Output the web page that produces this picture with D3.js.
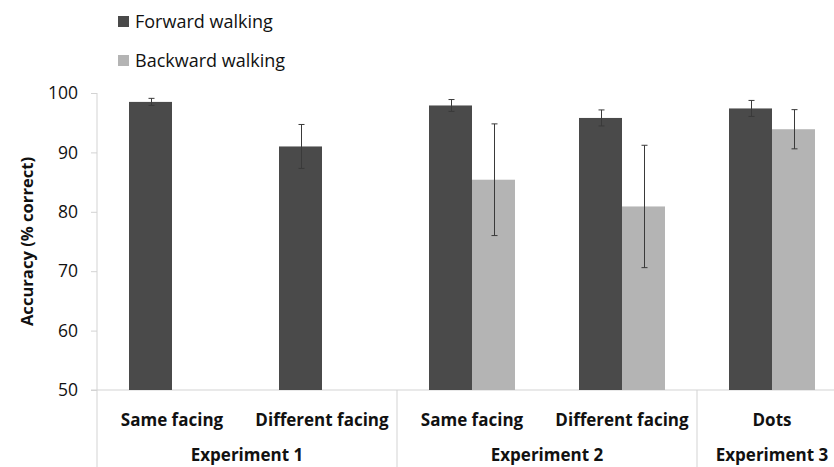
<!DOCTYPE html>
<html>
<head>
<meta charset="utf-8">
<script src="https://cdn.jsdelivr.net/npm/d3@7"></script>
<style>
  html, body { margin: 0; padding: 0; background: #fff; }
  svg { display: block; }
  text { font-family: "Open Sans", "Noto Sans", sans-serif; fill: #111; }
</style>
</head>
<body>
<svg id="chart" width="834" height="467"></svg>
<script>
// Conditions and group labels
const conditions = ["Same facing", "Different facing", "Same facing", "Different facing", "Dots"];
const experiments = ["Experiment 1", "Experiment 2", "Experiment 3"];
const experimentSpans = [[0, 2], [2, 4], [4, 5]]; // condition index ranges per experiment

// Mean accuracy (% correct) and error bar half-widths
const forwardMean = [98.5, 91.0, 97.9, 95.8, 97.4];
const forwardErr  = [0.6, 3.7, 1.0, 1.35, 1.35];
const backwardMean = [null, null, 85.4, 80.9, 93.9];
const backwardErr  = [null, null, 9.4, 10.3, 3.3];

const seriesNames = ["Forward walking", "Backward walking"];
const yTicks = [50, 60, 70, 80, 90, 100];

const colors = { fwd: "#4a4a4a", bwd: "#b4b4b4", axis: "#d3d3d3", err: "#3a3a3a" };

const svg = d3.select("#chart");
const plotLeft = 97, plotRight = 847, plotTop = 93, plotBottom = 390;

const x = d3.scaleBand().domain(d3.range(conditions.length)).range([plotLeft, plotRight]).paddingInner(0).paddingOuter(0);
const y = d3.scaleLinear().domain([50, 100]).range([plotBottom, plotTop]);
const barW = 43;

// Y axis
const yAxis = d3.axisLeft(y).tickValues(yTicks).tickSize(6).tickPadding(13);
const gy = svg.append("g").attr("transform", `translate(${plotLeft},0)`).call(yAxis);
gy.select(".domain").remove();
gy.selectAll(".tick line").attr("stroke", colors.axis);
gy.selectAll(".tick text").attr("font-size", 17.5).attr("fill", "#111")
  .attr("font-family", "'Open Sans', sans-serif");

// Axis lines
svg.append("line").attr("x1", plotLeft).attr("x2", plotLeft).attr("y1", plotTop).attr("y2", 467)
  .attr("stroke", colors.axis);
svg.append("line").attr("x1", plotLeft - 6).attr("x2", plotRight).attr("y1", plotBottom).attr("y2", plotBottom)
  .attr("stroke", colors.axis);

// Separators between experiments
experimentSpans.slice(1).forEach(([s]) => {
  svg.append("line").attr("x1", x(s)).attr("x2", x(s)).attr("y1", plotBottom).attr("y2", 467)
    .attr("stroke", colors.axis);
});

// Bars
const bars = svg.append("g");
function drawSeries(means, offset, fill) {
  means.forEach((v, i) => {
    if (v == null) return;
    const cx = x(i) + x.bandwidth() / 2 + offset;
    bars.append("rect")
      .attr("x", cx - barW / 2).attr("width", barW)
      .attr("y", y(v)).attr("height", y(50) - y(v))
      .attr("fill", fill);
  });
}
function drawErrors(means, errs, offset) {
  means.forEach((v, i) => {
    if (v == null) return;
    const cx = Math.round(x(i) + x.bandwidth() / 2 + offset) + 0.5;
    const e = errs[i];
    const g = bars.append("g").attr("stroke", colors.err).attr("stroke-width", 1);
    g.append("line").attr("x1", cx).attr("x2", cx).attr("y1", y(v + e)).attr("y2", y(v - e));
    g.append("line").attr("x1", cx - 3).attr("x2", cx + 3).attr("y1", y(v + e)).attr("y2", y(v + e));
    g.append("line").attr("x1", cx - 3).attr("x2", cx + 3).attr("y1", y(v - e)).attr("y2", y(v - e));
  });
}
drawSeries(forwardMean, -barW / 2, colors.fwd);
drawSeries(backwardMean, barW / 2, colors.bwd);
drawErrors(forwardMean, forwardErr, -barW / 2);
drawErrors(backwardMean, backwardErr, barW / 2);

// Category labels
svg.append("g").selectAll("text").data(conditions).join("text")
  .attr("x", (d, i) => x(i) + x.bandwidth() / 2)
  .attr("y", 426)
  .attr("text-anchor", "middle")
  .attr("font-size", 17).attr("font-weight", "bold")
  .text(d => d);

// Experiment labels
svg.append("g").selectAll("text").data(experiments).join("text")
  .attr("x", (d, i) => (x(experimentSpans[i][0]) + x(experimentSpans[i][1] - 1) + x.bandwidth()) / 2)
  .attr("y", 461)
  .attr("text-anchor", "middle")
  .attr("font-size", 17).attr("font-weight", "bold")
  .text(d => d);

// Y axis title
svg.append("text")
  .attr("transform", `translate(33,${(plotTop + plotBottom) / 2}) rotate(-90)`)
  .attr("text-anchor", "middle")
  .attr("font-size", 16.6).attr("font-weight", "bold")
  .text("Accuracy (% correct)");

// Legend
const legend = svg.append("g");
[colors.fwd, colors.bwd].forEach((c, i) => {
  const ly = 16 + i * 39;
  legend.append("rect").attr("x", 118).attr("y", ly).attr("width", 11).attr("height", 11).attr("fill", c);
  legend.append("text").attr("x", 135).attr("y", ly + 12).attr("font-size", 18).text(seriesNames[i]);
});
</script>
</body>
</html>
